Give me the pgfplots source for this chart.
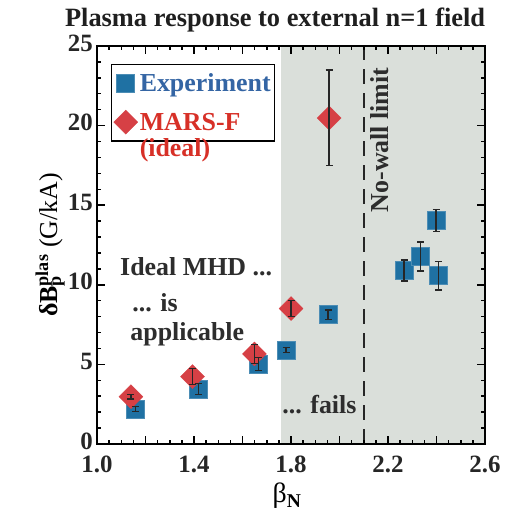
\documentclass[border=0pt]{standalone}
\usepackage{pgfplots}
\usepackage{pgfplotstable}
\pgfplotsset{compat=1.18}
\usepackage{fontspec}
\setmainfont{Liberation Serif}
\definecolor{expblue}{RGB}{31,113,163}
\definecolor{marsred}{RGB}{214,64,69}
\definecolor{greybg}{RGB}{218,223,218}
\definecolor{legblue}{RGB}{52,101,164}
\definecolor{legred}{RGB}{215,48,39}
\definecolor{annot}{RGB}{45,45,45}

\pgfplotstableread{
x y e
1.158 2.2 0.15
1.418 3.46 0.35
1.665 5.03 0.4
1.780 5.91 0.15
1.953 8.13 0.3
2.266 10.9 0.65
2.335 11.78 0.9
2.408 10.57 0.9
2.398 14.04 0.7
}\exptable

\pgfplotstableread{
x y e
1.140 2.97 0.15
1.394 4.23 0.5
1.649 5.66 0.6
1.800 8.51 0.5
1.957 20.48 3.0
}\marstable

\begin{document}
\begin{tikzpicture}[x=1bp,y=1bp]
\path[use as bounding box] (0,0) rectangle (509,514);
\begin{axis}[
  clip marker paths=true,
  at={(97bp,70bp)}, anchor=south west,
  scale only axis, width=388bp, height=398bp,
  xmin=1.0, xmax=2.6, ymin=0, ymax=25,
  axis on top,
  axis line style={line width=2.5bp, black},
  xtick={1.0,1.2,1.4,1.6,1.8,2.0,2.2,2.4,2.6},
  xticklabels={1.0,,1.4,,1.8,,2.2,,2.6},
  ytick={0,5,10,15,20,25},
  yticklabels={0,5,10,15,20,25},
  minor x tick num=3, minor y tick num=4,
  tick align=inside,
  major tick length=8bp, minor tick length=4bp,
  every tick/.style={line width=1.5bp, black},
  /pgf/number format/assume math mode=true,
  ticklabel style={font=\fontsize{25}{25}\selectfont\bfseries, text=black!85, inner sep=1bp},
  xticklabel style={yshift=-11bp},
  yticklabel style={xshift=-3bp, yshift=3bp},
  title={\fontsize{26.5}{27}\selectfont\bfseries Plasma response to external n=1 field},
  title style={at={(axis description cs:0.459,1.035)}, anchor=base, text=black!88},
  xlabel={β\textsubscript{\bfseries N}},
  xlabel style={at={(axis description cs:0.49,-0.09)}, anchor=north, font=\fontsize{28}{28}\selectfont},
  ylabel={{\bfseries δB\rlap{\textsubscript{p}}\textsuperscript{plas}} (G/kA)},
  ylabel style={at={(axis description cs:-0.121,0.5)}, anchor=center, font=\fontsize{26}{26}\selectfont},
  legend style={at={(axis description cs:0.036,0.955)}, anchor=north west,
    draw=black, line width=1.5bp, fill=white,
    font=\fontsize{26}{26}\selectfont\bfseries,
    inner xsep=2bp, inner ysep=7bp, row sep=15bp,
    cells={anchor=west},
    /tikz/every even column/.append style={column sep=6bp}},
  legend cell align=left,
]
\fill[greybg] (axis cs:1.76,0) rectangle (axis cs:2.6,25);
\draw[black!85, line width=2bp, dash pattern=on 15bp off 9bp] (axis cs:2.1,0) -- (axis cs:2.1,25);

\addplot[only marks, mark=square*, mark size=9bp, mark options={fill=expblue, draw=expblue!80!white, line width=0.5bp}]
  table[x=x, y=y] {\exptable};
\addlegendentry{\textcolor{legblue}{Experiment}}
\addplot[only marks, mark=square*, mark size=8.5bp, mark options={rotate=45, fill=marsred, draw=marsred, line width=0.3bp}]
  table[x=x, y=y] {\marstable};
\addlegendentry{\color{legred}\begin{tabular}[t]{@{}l@{}}MARS-F\\(ideal)\rule[-9bp]{0pt}{9bp}\end{tabular}}

\addplot[forget plot, draw=none, mark=none,
  error bars/.cd, y dir=both, y explicit,
  error bar style={line width=1.5bp, black!85},
  error mark options={rotate=90, mark size=3.5bp, line width=1.5bp, black!85}]
  table[x=x, y=y, y error=e] {\exptable};
\addplot[forget plot, draw=none, mark=none,
  error bars/.cd, y dir=both, y explicit,
  error bar style={line width=1.5bp, black!85},
  error mark options={rotate=90, mark size=3.5bp, line width=1.5bp, black!85}]
  table[x=x, y=y, y error=e] {\marstable};

\begin{scope}[every node/.style={inner sep=0pt, text=annot, font=\fontsize{26}{26}\selectfont\bfseries}]
\node[anchor=west] at (axis cs:1.095,11.13) {Ideal MHD ...};
\node[anchor=west] at (axis cs:1.145,8.85) {... is};
\node[anchor=west] at (axis cs:1.137,6.9) {applicable};
\node at (axis cs:1.917,2.45) {... fails};
\node[rotate=90] at (axis cs:2.166,19.1) {No-wall limit};
\end{scope}
\end{axis}
\end{tikzpicture}
\end{document}
